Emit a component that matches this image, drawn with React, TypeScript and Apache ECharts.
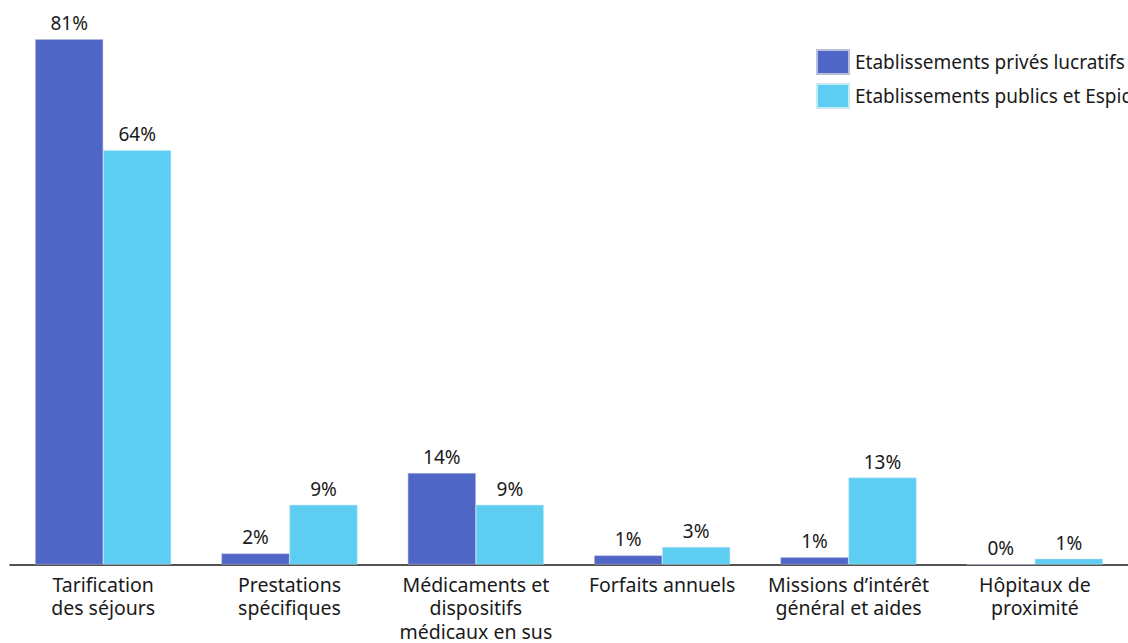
import React, { useEffect, useRef } from "react";
import * as echarts from "echarts";

const categories = [
  "Tarification\ndes séjours",
  "Prestations\nspécifiques",
  "Médicaments et\ndispositifs\nmédicaux en sus",
  "Forfaits annuels",
  "Missions d’intérêt\ngénéral et aides",
  "Hôpitaux de\nproximité",
];
const seriesNames = ["Etablissements privés lucratifs", "Etablissements publics et Espic"];
const privesValues = [81, 1.7, 14.1, 1.4, 1.1, 0];
const publicsValues = [63.9, 9.2, 9.2, 2.7, 13.4, 0.9];
const colors = ["#4F66C7", "#5ECDF2"];

const FONT = "'Noto Sans', sans-serif";

export default function App() {
  const ref = useRef<HTMLDivElement>(null);
  useEffect(() => {
    if (!ref.current) return;
    const chart = echarts.init(ref.current, null, { renderer: "svg" });
    const label = {
      show: true,
      position: "top",
      distance: 5,
      fontSize: 19,
      lineHeight: 22,
      fontFamily: FONT,
      color: "#1a1a1a",
      formatter: (p: any) => Math.round(p.value) + "%",
    };
    chart.setOption({
      animation: false,
      backgroundColor: "#ffffff",
      textStyle: { fontFamily: FONT },
      legend: {
        orient: "vertical",
        left: 816,
        top: 49,
        padding: 0,
        itemWidth: 32,
        itemHeight: 24,
        itemGap: 8,
        icon: "rect",
        textStyle: {
          fontSize: 19,
          lineHeight: 24,
          color: "#1a1a1a",
          fontFamily: FONT,
          padding: [0, 0, 0, 1],
        },
        data: seriesNames,
      },
      grid: { left: 10, top: 13.3, width: 1120, height: 552.7, containLabel: false },
      xAxis: {
        type: "category",
        data: categories,
        axisLine: { show: true, lineStyle: { color: "#1a1a1a", width: 1.5 } },
        axisTick: { show: false },
        axisLabel: {
          fontSize: 19.5,
          lineHeight: 23.5,
          margin: 8,
          color: "#1a1a1a",
          fontFamily: FONT,
          interval: 0,
        },
      },
      yAxis: {
        type: "value",
        min: 0,
        max: 85,
        show: false,
        splitLine: { show: false },
      },
      series: [
        {
          name: seriesNames[0],
          type: "bar",
          data: privesValues,
          barGap: "0%",
          barCategoryGap: "27%",
          itemStyle: { color: colors[0], borderColor: "#b8bfd8", borderWidth: 0.5 },
          label,
        },
        {
          name: seriesNames[1],
          type: "bar",
          data: publicsValues,
          barGap: "0%",
          barCategoryGap: "27%",
          itemStyle: { color: colors[1], borderColor: "#c8e8f4", borderWidth: 0.5 },
          label,
        },
      ],
    });
    return () => chart.dispose();
  }, []);
  return (
    <div
      ref={ref}
      style={{ position: "fixed", left: 0, top: 0, width: 1128, height: 643 }}
    />
  );
}
